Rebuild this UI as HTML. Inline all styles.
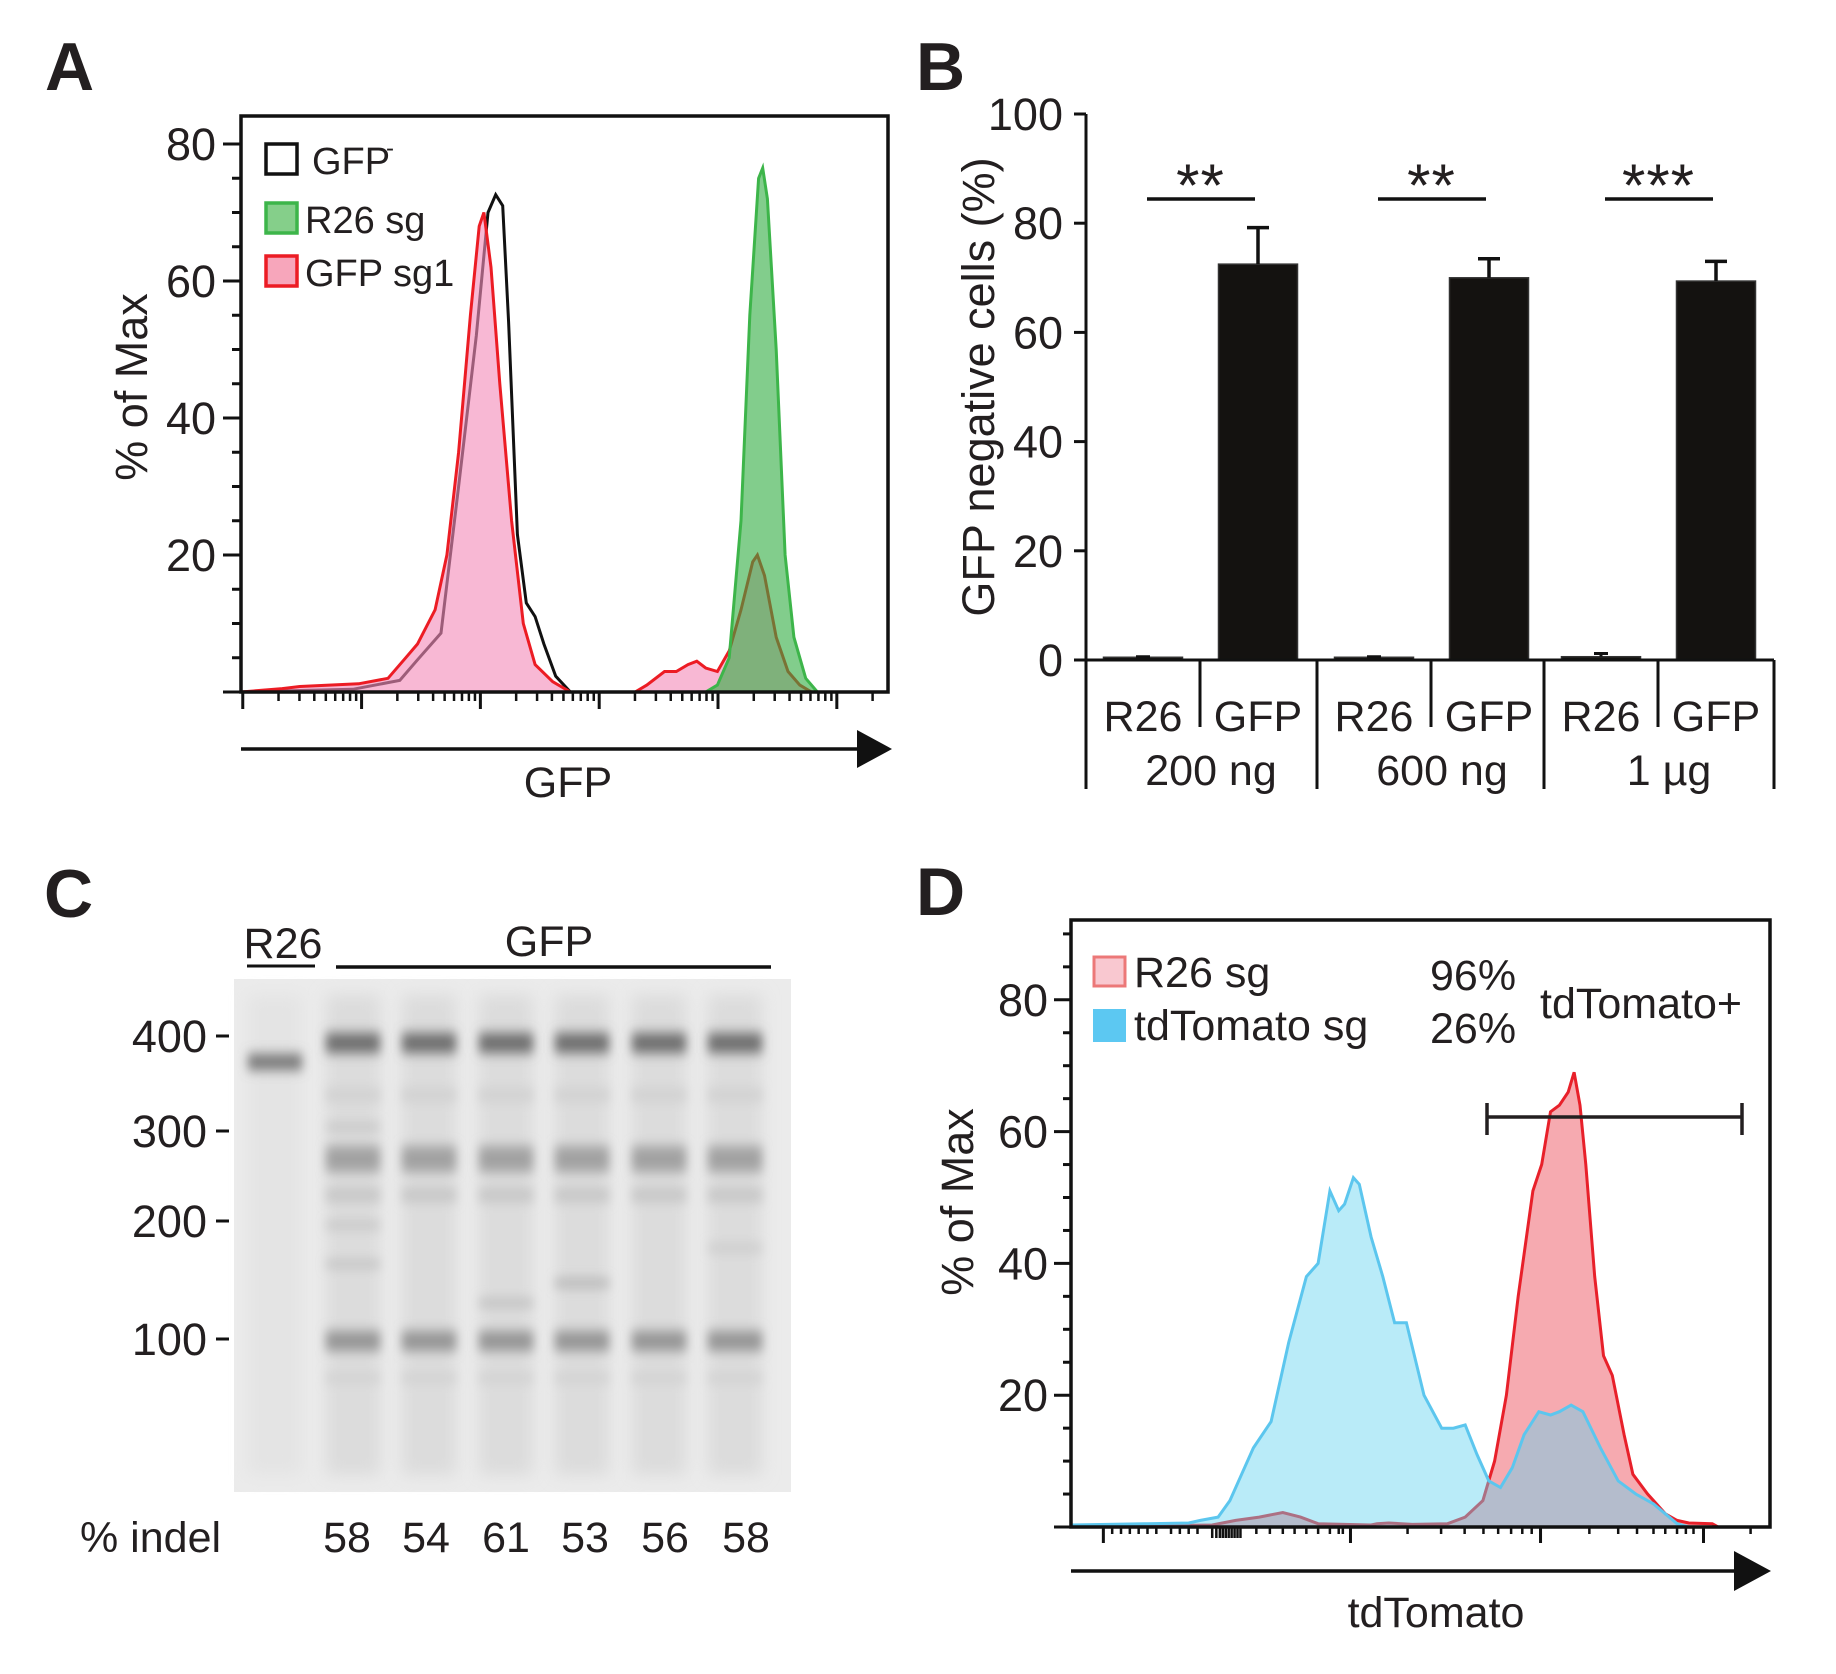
<!DOCTYPE html>
<html><head><meta charset="utf-8">
<style>
html,body{margin:0;padding:0;background:#fff;}
svg{display:block;font-family:"Liberation Sans",Arial,sans-serif;}
text{fill:#231f20;}
</style></head>
<body>
<svg id="fig" xmlns="http://www.w3.org/2000/svg" width="1836" height="1674" viewBox="0 0 1836 1674">
<defs>
<filter id="blurBand" x="-40%" y="-300%" width="180%" height="700%"><feGaussianBlur stdDeviation="5 6"/></filter>
<filter id="blur8" x="-40%" y="-20%" width="180%" height="140%"><feGaussianBlur stdDeviation="8"/></filter>
</defs>
<text x="45" y="90" font-size="68" font-weight="bold">A</text>
<text x="916" y="90" font-size="68" font-weight="bold">B</text>
<text x="44" y="917" font-size="68" font-weight="bold">C</text>
<text x="916" y="915" font-size="68" font-weight="bold">D</text>

<g id="panelA"></g>
<g id="panelB"></g>
<g id="panelC"></g>
<g id="panelD"></g>
</svg>
<script>
// ---------- DATA ----------
const aBlackX = [0,190,270,300,340,370,400,420,433,445,455,470,485,500,515,535,560,1100];
const aBlackY = [0,0.4,1.7,4.7,8.6,30,52,70,72.6,71,54,23,13,11,7,2.3,0,0];
const aRedX = [0,70,100,200,250,280,300,330,350,370,390,405,413,425,440,460,480,500,530,560,670,690,720,740,760,775,790,810,830,850,870,878,890,910,930,950,970,1100];
const aRedY = [0,0.5,0.8,1.2,2,5,7,12,20,35,55,68,70,62,45,25,10,4,1.5,0,0,1,3,3,4,4.5,3.5,3,6,12,19,20,17,8,3,1,0,0];
const aGreenX = [0,790,810,830,850,865,880,887,895,910,925,940,960,980,1100];
const aGreenY = [0,0,1,5,25,55,75,76.5,72,50,20,8,2,0,0];
const aYTicks = [20,40,60,80];

const bGroups = ["200 ng","600 ng","1 \u00b5g"];
const bCats = ["R26","GFP"];
const bR26 = [0.5,0.5,0.6];
const bR26Err = [0.1,0.1,0.6];
const bGFP = [72.5,70.0,69.4];
const bGFPErr = [6.7,3.5,3.6];
const bSig = ["**","**","***"];
const bYTicks = [0,20,40,60,80,100];

const cMarkers = ["400","300","200","100"];
const cIndel = ["58","54","61","53","56","58"];

const dBlueX = [0,130,200,220,250,270,290,310,340,370,400,420,440,455,465,480,490,510,530,550,570,600,630,650,670,690,710,730,750,770,795,815,830,850,870,900,930,960,990,1010,1030,1050,1070,1188];
const dBlueY = [0.3,0.5,0.6,1,1.5,4,8,12,16,28,38,40,51,48,49,53,52,44,38,31,31,20,15,15,15.5,11,7,6,9,14,17.5,17,17.5,18.5,17.5,12,7,5,3.5,2,0.5,0,0,0];
const dRedX = [0,240,280,320,360,390,420,510,520,540,580,640,670,700,720,740,760,785,800,815,830,845,855,865,875,890,905,920,940,955,980,1010,1030,1050,1090,1100,1188];
const dRedY = [0,0.3,1,1.5,2.2,1.5,0.5,0.3,0.5,0.6,0.4,0.5,1.5,4,10,20,35,51,55,63,64,66,69,64,55,38,26,23,14,8,5,2,1,0.6,0.5,0,0];
const dYTicks = [20,40,60,80];

// ---------- HELPERS ----------
const NS = "http://www.w3.org/2000/svg";
function mk(tag, attrs, parent){
  const e = document.createElementNS(NS, tag);
  for (const k in attrs) e.setAttribute(k, attrs[k]);
  parent.appendChild(e);
  return e;
}
function areaPath(xs, ys, fx, fy){
  let d = "M" + fx(xs[0]) + "," + fy(0);
  for (let i=0;i<xs.length;i++) d += " L" + fx(xs[i]).toFixed(1) + "," + fy(ys[i]).toFixed(1);
  d += " L" + fx(xs[xs.length-1]) + "," + fy(0) + " Z";
  return d;
}
function linePath(xs, ys, fx, fy){
  let d = "";
  for (let i=0;i<xs.length;i++) d += (i? " L":"M") + fx(xs[i]).toFixed(1) + "," + fy(ys[i]).toFixed(1);
  return d;
}
const TICK_FS = 45, LBL_FS = 43;

// ---------- PANEL A ----------
(function(){
  const g = document.getElementById("panelA");
  const L=241,R=888,T=116,B=692;
  const xA = c => L + c/1100*(R-L);
  const yA = v => B - v*6.85;
  let e;
  e = mk("path",{d:linePath(aBlackX,aBlackY,xA,yA),fill:"none",stroke:"#111",'stroke-width':3},g);
  
  
  e = mk("path",{d:areaPath(aRedX,aRedY,xA,yA),fill:"rgba(244,140,185,0.62)",stroke:"none"},g);
  
  
  e = mk("path",{d:linePath(aRedX,aRedY,xA,yA),fill:"none",stroke:"#ec1c24",'stroke-width':3},g);
  
  
  e = mk("path",{d:areaPath(aGreenX,aGreenY,xA,yA),fill:"rgba(47,172,63,0.6)",stroke:"none"},g);
  
  
  e = mk("path",{d:linePath(aGreenX,aGreenY,xA,yA),fill:"none",stroke:"#3db54a",'stroke-width':3},g);
  
  
  e = mk("rect",{x:L,y:T,width:R-L,height:B-T,fill:"none",stroke:"#111",'stroke-width':3.5},g);
  
  
  for (let v=0; v<=80; v+=5){
    const major = v%20===0;
    e = mk("line",{x1:L-(major?18:9),x2:L,y1:yA(v),y2:yA(v),stroke:"#111",'stroke-width':3},g);
    
    
  }
  aYTicks.forEach(v=>{
    e = mk("text",{x:216,y:yA(v)+16,'font-size':TICK_FS,'text-anchor':'end'},g);
    e.textContent = v;
    
    
  });
  const dec = 202, start = 3;
  const lg = [2,3,4,5,6,7,8,9].map(k=>Math.log10(k)*dec);
  for (let d=-1; d<6; d++){
    const base = start + d*dec;
    if (base>=0 && base<=1100){
      e = mk("line",{x1:xA(base),x2:xA(base),y1:B,y2:B+17,stroke:"#111",'stroke-width':3},g);
      
      
    }
    lg.forEach(o=>{
      const c = base+o;
      if (c>0 && c<1100){
        e = mk("line",{x1:xA(c),x2:xA(c),y1:B,y2:B+9,stroke:"#111",'stroke-width':2.5},g);
        
        
      }
    });
  }
  e = mk("line",{x1:L,x2:R-30,y1:749,y2:749,stroke:"#111",'stroke-width':3.5},g);
  
  
  e = mk("polygon",{points:`${R-31},730 ${R+4},749 ${R-31},768`,fill:"#111"},g);
  
  
  e = mk("text",{x:568,y:797,'font-size':LBL_FS,'text-anchor':'middle'},g);
  e.textContent = "GFP";
  
  
  e = mk("text",{x:0,y:0,'font-size':TICK_FS,'text-anchor':'middle',transform:"translate(147,387) rotate(-90)"},g);
  e.textContent = "% of Max";
  
  
  const leg = [["GFP","#fff","#111",142],["R26 sg","#85cf8a","#3db54a",201],["GFP sg1","#f7a6bb","#ec1c24",254]];
  leg.forEach((l,i)=>{
    e = mk("rect",{x:266,y:l[3]+2,width:31,height:30,fill:l[1],stroke:l[2],'stroke-width':3.5},g);
    
    
    e = mk("text",{x:i===0?312:305,y:l[3]+32,'font-size':38},g);
    e.textContent = l[0];
    
    
    if (i===0){
      e = mk("text",{x:386,y:l[3]+14,'font-size':24},g);
      e.textContent = "-";
      
      
    }
  });
})();

// ---------- PANEL B ----------
(function(){
  const g = document.getElementById("panelB");
  const AX = 1086, Y0 = 660, yB = v => Y0 - v*5.46;
  const groupL = [1086,1317,1544];
  const barW = 79;
  let e;
  bYTicks.forEach(v=>{
    e = mk("line",{x1:AX-12,x2:AX,y1:yB(v),y2:yB(v),stroke:"#111",'stroke-width':3},g);
    
    
    e = mk("text",{x:1063,y:yB(v)+16,'font-size':TICK_FS,'text-anchor':'end'},g);
    e.textContent = v;
    
    
  });
  e = mk("line",{x1:AX,x2:AX,y1:yB(100),y2:Y0,stroke:"#111",'stroke-width':3},g);
  
  
  e = mk("text",{x:0,y:0,'font-size':TICK_FS,'text-anchor':'middle',transform:"translate(994,387) rotate(-90)"},g);
  e.textContent = "GFP negative cells (%)";
  
  
  bGroups.forEach((grp,i)=>{
    const gl = groupL[i];
    const cx1 = gl + 57, cx2 = gl + 172;
    e = mk("rect",{x:cx1-barW/2,y:yB(bR26[i]),width:barW,height:Y0-yB(bR26[i]),fill:"#141210",stroke:"#333",'stroke-width':1.5},g);
    
    
    e = mk("path",{d:`M${cx1},${yB(bR26[i])} V${yB(bR26[i]+bR26Err[i])} M${cx1-7},${yB(bR26[i]+bR26Err[i])} H${cx1+7}`,stroke:"#111",'stroke-width':3,fill:"none"},g);
    
    
    e = mk("rect",{x:cx2-barW/2,y:yB(bGFP[i]),width:barW,height:Y0-yB(bGFP[i]),fill:"#141210",stroke:"#333",'stroke-width':1.5},g);
    
    
    e = mk("path",{d:`M${cx2},${yB(bGFP[i])} V${yB(bGFP[i]+bGFPErr[i])} M${cx2-11},${yB(bGFP[i]+bGFPErr[i])} H${cx2+11}`,stroke:"#111",'stroke-width':3.5,fill:"none"},g);
    
    
    e = mk("line",{x1:cx1+4,x2:cx2-3,y1:199,y2:199,stroke:"#111",'stroke-width':3.5},g);
    
    
    e = mk("text",{x:(cx1+cx2)/2,y:206,'font-size':60,'text-anchor':'middle','letter-spacing':"1"},g);
    e.textContent = bSig[i];
    
    
    e = mk("text",{x:cx1,y:731,'font-size':LBL_FS,'text-anchor':'middle'},g);
    e.textContent = bCats[0];
    
    
    e = mk("text",{x:cx2,y:731,'font-size':LBL_FS,'text-anchor':'middle'},g);
    e.textContent = bCats[1];
    
    
    e = mk("text",{x:gl+125,y:785,'font-size':LBL_FS,'text-anchor':'middle'},g);
    e.textContent = grp;
    
    
    e = mk("line",{x1:gl,x2:gl,y1:Y0,y2:789,stroke:"#111",'stroke-width':3},g);
    
    
    e = mk("line",{x1:gl+114,x2:gl+114,y1:Y0,y2:727,stroke:"#111",'stroke-width':3},g);
    
    
  });
  e = mk("line",{x1:1774,x2:1774,y1:Y0,y2:789,stroke:"#111",'stroke-width':3},g);
  
  
  e = mk("line",{x1:AX,x2:1774,y1:Y0,y2:Y0,stroke:"#111",'stroke-width':3},g);
  
  
})();

// ---------- PANEL C ----------
(function(){
  const g = document.getElementById("panelC");
  let e;
  e = mk("rect",{x:234,y:979,width:557,height:513,fill:"#ebebeb"},g);
  
  
  const lanes = [275,353,429,506,582,659,735];
  const markerY = [1036,1131,1221,1339];
  lanes.forEach((cx,i)=>{
    e = mk("rect",{x:cx-27,y:995,width:54,height:480,fill:i===0?"#e4e4e4":"#dcdcdc",filter:"url(#blur8)"},g);
    
    
  });
  const bands = [[0,1062,16,"#777"]];
  for (let i=1;i<7;i++){
    bands.push([i,1043,20,"#6e6e6e"]);
    bands.push([i,1095,14,"#d2d2d2"]);
    bands.push([i,1159,26,"#a2a2a2"]);
    bands.push([i,1195,14,"#c6c6c6"]);
    bands.push([i,1341,20,"#959595"]);
    bands.push([i,1378,10,"#d2d2d2"]);
  }
  bands.push([1,1127,6,"#bdbdbd"],[1,1225,6,"#bdbdbd"],[1,1264,6,"#b8b8b8"],[3,1303,7,"#b8b8b8"],[4,1283,7,"#aaa"],[6,1248,6,"#c4c4c4"]);
  bands.forEach(b=>{
    e = mk("rect",{x:lanes[b[0]]-27,y:b[1]-b[2]/2,width:54,height:b[2],fill:b[3],filter:"url(#blurBand)"},g);
    
    
  });
  cMarkers.forEach((m,i)=>{
    e = mk("text",{x:207,y:markerY[i]+16,'font-size':TICK_FS,'text-anchor':'end'},g);
    e.textContent = m;
    
    
    e = mk("line",{x1:216,x2:229,y1:markerY[i],y2:markerY[i],stroke:"#111",'stroke-width':3},g);
    
    
  });
  e = mk("text",{x:283,y:958,'font-size':LBL_FS,'text-anchor':'middle'},g);
  e.textContent = "R26";
  
  
  e = mk("line",{x1:247,x2:315,y1:966,y2:966,stroke:"#111",'stroke-width':3},g);
  
  
  e = mk("text",{x:549,y:956,'font-size':LBL_FS,'text-anchor':'middle'},g);
  e.textContent = "GFP";
  
  
  e = mk("line",{x1:336,x2:771,y1:967,y2:967,stroke:"#111",'stroke-width':3.5},g);
  
  
  e = mk("text",{x:80,y:1552,'font-size':LBL_FS},g);
  e.textContent = "% indel";
  
  
  const numX = [347,426,506,585,665,746];
  cIndel.forEach((n,i)=>{
    e = mk("text",{x:numX[i],y:1552,'font-size':LBL_FS,'text-anchor':'middle'},g);
    e.textContent = n;
    
    
  });
})();

// ---------- PANEL D ----------
(function(){
  const g = document.getElementById("panelD");
  const L=1071,R=1770,T=920,B=1527;
  const xD = c => L + c/1188*(R-L);
  const yD = v => B - v*6.59;
  let e;
  e = mk("path",{d:areaPath(dRedX,dRedY,xD,yD),fill:"#f6aab0",stroke:"none"},g);
  
  
  e = mk("path",{d:linePath(dRedX,dRedY,xD,yD),fill:"none",stroke:"#e8202a",'stroke-width':3},g);
  
  
  e = mk("path",{d:areaPath(dBlueX,dBlueY,xD,yD),fill:"rgba(100,210,240,0.45)",stroke:"none"},g);
  
  
  e = mk("path",{d:linePath(dBlueX,dBlueY,xD,yD),fill:"none",stroke:"#5cc6ee",'stroke-width':3},g);
  
  
  e = mk("rect",{x:L,y:T,width:R-L,height:B-T,fill:"none",stroke:"#111",'stroke-width':3.5},g);
  
  
  for (let v=0; v<=90; v+=5){
    const major = v%20===0;
    e = mk("line",{x1:L-(major?17:8),x2:L,y1:yD(v),y2:yD(v),stroke:"#111",'stroke-width':3},g);
    
    
  }
  dYTicks.forEach(v=>{
    e = mk("text",{x:1048,y:yD(v)+16,'font-size':TICK_FS,'text-anchor':'end'},g);
    e.textContent = v;
    
    
  });
  const majors = [55,475,798,1075];
  const minors = [70,85,100,115,130,145,170,185,200,215,240,247,253,258,263,268,273,278,283,288,315,338,360,380,400,420,440,455,462,572,629,669,701,726,748,767,783,881,930,962,990,1010,1030,1045,1058,1155];
  majors.forEach(c=>{
    e = mk("line",{x1:xD(c),x2:xD(c),y1:B,y2:B+16,stroke:"#111",'stroke-width':3},g);
    
    
  });
  minors.forEach(c=>{
    e = mk("line",{x1:xD(c),x2:xD(c),y1:B,y2:B+(c>=240&&c<=290?11:7),stroke:"#111",'stroke-width':2.5},g);
    
    
  });
  e = mk("path",{d:"M1487,1117 H1742 M1487,1103 V1135 M1742,1103 V1135",stroke:"#231f20",'stroke-width':3.5,fill:"none"},g);
  
  
  e = mk("text",{x:1540,y:1018,'font-size':LBL_FS},g);
  e.textContent = "tdTomato+";
  
  
  e = mk("text",{x:1430,y:990,'font-size':LBL_FS},g);
  e.textContent = "96%";
  
  
  e = mk("text",{x:1430,y:1043,'font-size':LBL_FS},g);
  e.textContent = "26%";
  
  
  e = mk("rect",{x:1094,y:957,width:31,height:29,fill:"#f9c8d0",stroke:"#ec7878",'stroke-width':3},g);
  
  
  e = mk("text",{x:1134,y:987,'font-size':LBL_FS},g);
  e.textContent = "R26 sg";
  
  
  e = mk("rect",{x:1093,y:1009,width:33,height:33,fill:"#5cc8f2"},g);
  
  
  e = mk("text",{x:1134,y:1040,'font-size':LBL_FS},g);
  e.textContent = "tdTomato sg";
  
  
  e = mk("line",{x1:L,x2:R-36,y1:1571,y2:1571,stroke:"#111",'stroke-width':3.5},g);
  
  
  e = mk("polygon",{points:`${R-36},1551 ${R+1},1571 ${R-36},1591`,fill:"#111"},g);
  
  
  e = mk("text",{x:1436,y:1627,'font-size':LBL_FS,'text-anchor':'middle'},g);
  e.textContent = "tdTomato";
  
  
  e = mk("text",{x:0,y:0,'font-size':TICK_FS,'text-anchor':'middle',transform:"translate(973,1202) rotate(-90)"},g);
  e.textContent = "% of Max";
  
  
})();
</script>
</body></html>
